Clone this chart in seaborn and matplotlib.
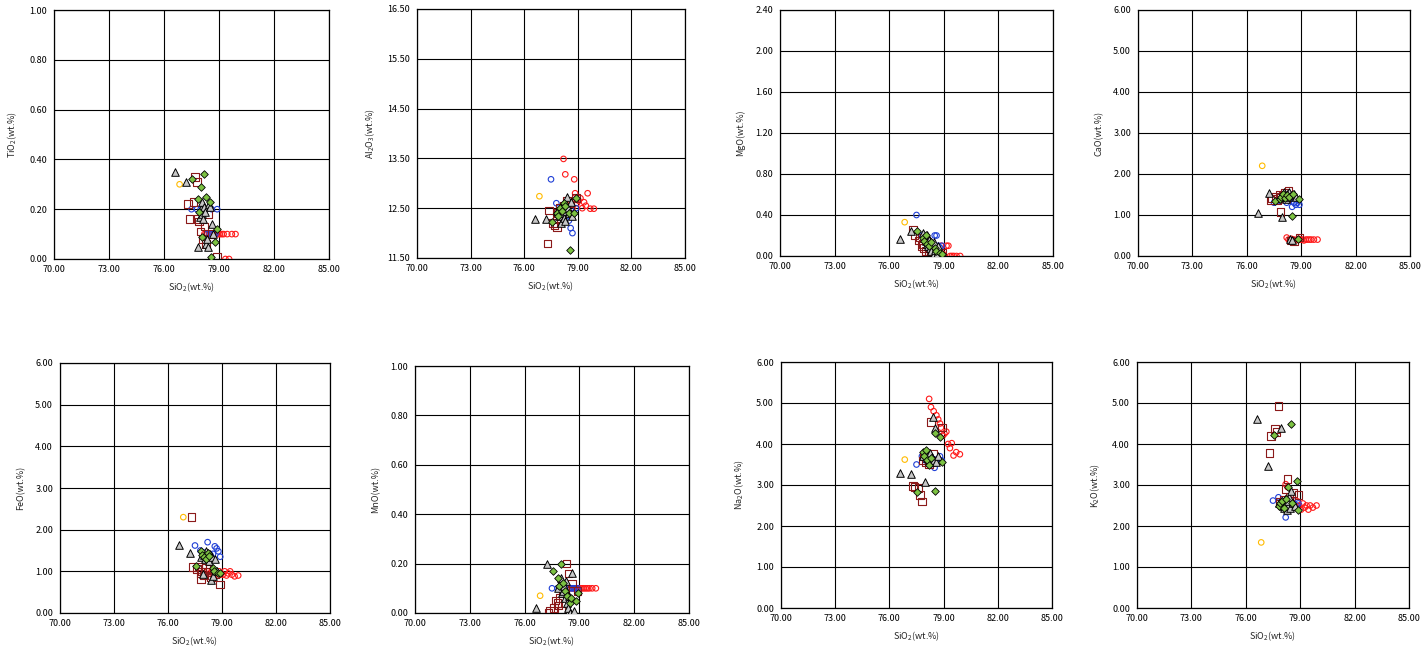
import pandas as pd
import seaborn as sns
import matplotlib
matplotlib.use('Agg')
import matplotlib.pyplot as plt
from matplotlib.ticker import FormatStrFormatter

# ---------------- data ----------------
# red open circles
red_si = [78.20, 78.30, 78.45, 78.60, 78.70, 78.80, 78.85, 78.95, 79.05, 79.15, 79.25, 79.35, 79.45, 79.55, 79.70, 79.90]
red_ti = [0.10, 0.10, 0.10, 0.10, 0.10, 0.10, 0.10, 0.10, 0.10, 0.10, 0.10, 0.00, 0.10, 0.00, 0.10, 0.10]
red_al = [13.49, 13.18, 12.55, 12.62, 12.50, 13.08, 12.80, 12.60, 12.65, 12.70, 12.50, 12.62, 12.55, 12.80, 12.49, 12.49]
red_mg = [0.05, 0.03, 0.02, 0.08, 0.00, 0.05, 0.10, 0.02, 0.00, 0.10, 0.10, 0.00, 0.00, 0.00, 0.00, 0.00]
red_ca = [0.45, 0.40, 0.42, 0.40, 0.38, 0.40, 0.42, 0.40, 0.40, 0.38, 0.40, 0.40, 0.40, 0.40, 0.40, 0.40]
red_fe = [1.00, 0.95, 0.98, 1.00, 0.95, 0.90, 1.00, 0.95, 0.92, 1.00, 0.90, 0.95, 1.00, 0.92, 0.88, 0.90]
red_mn = [0.10, 0.10, 0.10, 0.10, 0.10, 0.10, 0.10, 0.10, 0.10, 0.10, 0.10, 0.10, 0.10, 0.10, 0.10, 0.10]
red_na = [5.10, 4.90, 4.80, 4.70, 4.60, 4.50, 4.40, 4.20, 4.25, 4.30, 4.00, 3.90, 4.02, 3.72, 3.80, 3.75]
red_k = [3.02, 2.95, 2.65, 2.55, 2.50, 2.45, 2.60, 2.50, 2.40, 2.55, 2.45, 2.50, 2.40, 2.50, 2.45, 2.50]

# blue open circles
blue_si = [77.50, 77.80, 78.00, 78.20, 78.35, 78.50, 78.60, 78.70, 78.80, 78.90]
blue_ti = [0.20, 0.20, 0.20, 0.20, 0.10, 0.10, 0.20, 0.10, 0.10, 0.20]
blue_al = [13.08, 12.60, 12.45, 12.35, 12.30, 12.25, 12.10, 12.00, 12.40, 12.50]
blue_mg = [0.40, 0.20, 0.18, 0.15, 0.12, 0.20, 0.20, 0.10, 0.08, 0.10]
blue_ca = [1.30, 1.35, 1.40, 1.30, 1.35, 1.20, 1.30, 1.25, 1.30, 1.25]
blue_fe = [1.62, 1.50, 1.45, 1.70, 1.40, 1.42, 1.60, 1.55, 1.48, 1.35]
blue_mn = [0.10, 0.10, 0.10, 0.10, 0.10, 0.10, 0.10, 0.10, 0.10, 0.10]
blue_na = [3.50, 3.70, 3.60, 3.75, 3.65, 3.42, 3.62, 3.55, 3.70, 3.60]
blue_k = [2.62, 2.70, 2.50, 2.21, 2.40, 2.55, 2.63, 2.45, 2.50, 2.55]

# orange open circle (single sample)
orange_si = [76.85]
orange_ti = [0.30]
orange_al = [12.74]
orange_mg = [0.33]
orange_ca = [2.20]
orange_fe = [2.30]
orange_mn = [0.07]
orange_na = [3.62]
orange_k = [1.60]

# dark red open squares
sq_si = [77.30, 77.40, 77.60, 77.70, 77.80, 77.85, 77.90, 78.00, 78.10, 78.20, 78.30, 78.40, 78.60, 78.90]
sq_ti = [0.22, 0.16, 0.23, 0.33, 0.31, 0.16, 0.15, 0.11, 0.08, 0.13, 0.06, 0.18, 0.10, 0.01]
sq_al = [11.79, 12.45, 12.20, 12.15, 12.30, 12.12, 12.40, 12.50, 12.35, 12.55, 12.45, 12.65, 12.60, 12.70]
sq_mg = [0.26, 0.20, 0.15, 0.18, 0.10, 0.12, 0.08, 0.05, 0.14, 0.02, 0.00, 0.06, 0.00, 0.03]
sq_ca = [1.37, 1.40, 1.45, 1.35, 1.50, 1.08, 1.42, 1.48, 1.55, 1.40, 1.58, 0.38, 0.35, 0.45]
sq_fe = [2.30, 1.10, 1.05, 1.12, 0.95, 0.82, 1.00, 0.90, 1.08, 0.98, 1.05, 0.85, 0.92, 0.68]
sq_mn = [0.00, 0.01, 0.02, 0.05, 0.04, 0.03, 0.06, 0.01, 0.08, 0.10, 0.20, 0.16, 0.12, 0.09]
sq_na = [2.97, 2.95, 2.93, 2.75, 2.60, 3.60, 3.70, 3.55, 3.65, 3.50, 4.53, 3.75, 3.60, 4.40]
sq_k = [3.78, 4.20, 4.37, 4.30, 4.93, 2.55, 2.60, 2.50, 2.65, 2.90, 3.15, 2.70, 2.80, 2.75]

# grey triangles
tri_si = [76.60, 77.20, 77.85, 77.95, 78.00, 78.05, 78.10, 78.15, 78.20, 78.25, 78.30, 78.35, 78.40, 78.45, 78.50, 78.60, 78.70]
tri_ti = [0.35, 0.31, 0.05, 0.17, 0.20, 0.23, 0.18, 0.16, 0.21, 0.19, 0.06, 0.08, 0.05, 0.22, 0.21, 0.14, 0.10]
tri_al = [12.28, 12.29, 12.45, 12.35, 12.50, 12.20, 12.40, 12.55, 12.30, 12.60, 12.25, 12.45, 12.73, 12.50, 12.40, 12.62, 12.35]
tri_mg = [0.17, 0.24, 0.22, 0.18, 0.15, 0.20, 0.12, 0.10, 0.16, 0.08, 0.05, 0.12, 0.00, 0.14, 0.06, 0.02, 0.10]
tri_ca = [1.04, 1.53, 1.45, 0.94, 1.50, 1.55, 1.48, 1.40, 1.52, 1.45, 1.50, 1.55, 0.42, 1.48, 0.38, 1.50, 1.45]
tri_fe = [1.64, 1.44, 1.35, 0.94, 1.40, 1.30, 1.50, 1.38, 1.45, 1.32, 1.25, 1.42, 0.80, 1.35, 0.90, 1.30, 1.00]
tri_mn = [0.02, 0.20, 0.10, 0.12, 0.14, 0.08, 0.09, 0.11, 0.06, 0.13, 0.04, 0.00, 0.02, 0.07, 0.00, 0.16, 0.01]
tri_na = [3.30, 3.27, 3.70, 3.07, 3.75, 3.80, 3.65, 3.72, 3.60, 3.78, 3.55, 3.68, 4.66, 3.62, 4.40, 3.55, 3.70]
tri_k = [4.60, 3.47, 2.55, 4.39, 2.60, 2.50, 2.45, 2.65, 2.55, 2.40, 2.50, 2.60, 2.70, 2.45, 2.85, 2.55, 2.50]

# green diamonds
dia_si = [77.55, 77.85, 77.90, 78.00, 78.10, 78.20, 78.30, 78.50, 78.55, 78.80, 78.90]
dia_ti = [0.32, 0.24, 0.19, 0.29, 0.09, 0.34, 0.25, 0.23, 0.01, 0.07, 0.12]
dia_al = [12.23, 12.40, 12.35, 12.50, 12.45, 12.60, 12.55, 12.40, 11.67, 12.40, 12.70]
dia_mg = [0.24, 0.18, 0.15, 0.20, 0.12, 0.10, 0.14, 0.08, 0.05, 0.03, 0.02]
dia_ca = [1.33, 1.40, 1.45, 1.50, 1.42, 1.48, 1.45, 0.98, 1.50, 0.41, 1.40]
dia_fe = [1.12, 1.50, 1.40, 1.35, 1.30, 1.45, 1.38, 1.08, 1.00, 0.96, 0.95]
dia_mn = [0.17, 0.14, 0.11, 0.20, 0.12, 0.09, 0.07, 0.04, 0.06, 0.05, 0.08]
dia_na = [2.82, 3.80, 3.70, 3.85, 3.60, 3.50, 3.65, 4.28, 2.86, 4.18, 3.55]
dia_k = [4.22, 2.50, 2.55, 2.60, 2.45, 2.65, 2.95, 4.49, 2.55, 3.10, 2.40]

oxides = ['TiO2', 'Al2O3', 'MgO', 'CaO', 'FeO', 'MnO', 'Na2O', 'K2O']
ylabels = ['TiO$_2$(wt.%)', 'Al$_2$O$_3$(wt.%)', 'MgO(wt.%)', 'CaO(wt.%)',
           'FeO(wt.%)', 'MnO(wt.%)', 'Na$_2$O(wt.%)', 'K$_2$O(wt.%)']
# y ticks per panel (first and last are the axis limits)
ti_ticks = [0.0, 0.2, 0.4, 0.6, 0.8, 1.0]
al_ticks = [11.5, 12.5, 13.5, 14.5, 15.5, 16.5]
mg_ticks = [0.0, 0.4, 0.8, 1.2, 1.6, 2.0, 2.4]
six_ticks = [0.0, 1.0, 2.0, 3.0, 4.0, 5.0, 6.0]
yticks = [ti_ticks, al_ticks, mg_ticks, six_ticks, six_ticks, ti_ticks, six_ticks, six_ticks]
xticks = [70, 73, 76, 79, 82, 85]


def make_df(si, ti, al, mg, ca, fe, mn, na, k):
    return pd.DataFrame({'SiO2': si, 'TiO2': ti, 'Al2O3': al, 'MgO': mg, 'CaO': ca,
                         'FeO': fe, 'MnO': mn, 'Na2O': na, 'K2O': k})


groups = [
    (make_df(red_si, red_ti, red_al, red_mg, red_ca, red_fe, red_mn, red_na, red_k),
     dict(marker='o', s=16, facecolor='none', edgecolor='#ff1a1a', linewidth=0.8)),
    (make_df(blue_si, blue_ti, blue_al, blue_mg, blue_ca, blue_fe, blue_mn, blue_na, blue_k),
     dict(marker='o', s=16, facecolor='none', edgecolor='#1f3fd6', linewidth=0.8)),
    (make_df(orange_si, orange_ti, orange_al, orange_mg, orange_ca, orange_fe, orange_mn, orange_na, orange_k),
     dict(marker='o', s=16, facecolor='none', edgecolor='#ffbb00', linewidth=0.8)),
    (make_df(sq_si, sq_ti, sq_al, sq_mg, sq_ca, sq_fe, sq_mn, sq_na, sq_k),
     dict(marker='s', s=30, facecolor='none', edgecolor='#8b1a1a', linewidth=0.8)),
    (make_df(tri_si, tri_ti, tri_al, tri_mg, tri_ca, tri_fe, tri_mn, tri_na, tri_k),
     dict(marker='^', s=30, facecolor='#c8c8c8', edgecolor='black', linewidth=0.7)),
    (make_df(dia_si, dia_ti, dia_al, dia_mg, dia_ca, dia_fe, dia_mn, dia_na, dia_k),
     dict(marker='D', s=15, facecolor='#7cc242', edgecolor='black', linewidth=0.6)),
]

sns.set_style('white')
plt.rcParams['font.family'] = ['Noto Sans CJK JP', 'DejaVu Sans']
plt.rcParams['mathtext.default'] = 'regular'

W, H = 1422, 652
fig = plt.figure(figsize=(W / 100, H / 100), dpi=100)

# axes boxes in pixels: left, top, width, height
boxes = [(54, 10, 275, 249), (417, 9, 268, 249), (780, 10, 273, 246), (1138, 10, 272, 246),
         (60, 363, 270, 250), (415, 366, 274, 247), (781, 362, 271, 246), (1137, 362, 272, 246)]

for i, ox in enumerate(oxides):
    l, t, w, h = boxes[i]
    ax = fig.add_axes([l / W, 1 - (t + h) / H, w / W, h / H])
    for df, style in groups:
        sns.scatterplot(data=df, x='SiO2', y=ox, ax=ax, legend=False, zorder=3, **style)
    ax.set_xlim(70, 85)
    ax.set_ylim(yticks[i][0], yticks[i][-1])
    ax.set_xticks(xticks)
    ax.set_yticks(yticks[i])
    ax.xaxis.set_major_formatter(FormatStrFormatter('%.2f'))
    ax.yaxis.set_major_formatter(FormatStrFormatter('%.2f'))
    ax.grid(True, color='black', linewidth=0.8)
    ax.set_axisbelow(True)
    for sp in ax.spines.values():
        sp.set_color('black')
        sp.set_linewidth(0.9)
    ax.tick_params(axis='both', labelsize=6.5, length=3, width=0.8, pad=2, colors='black')
    ax.tick_params(axis='x', length=0, pad=4)
    ax.set_xlabel('SiO$_2$(wt.%)', fontsize=6.5, labelpad=5)
    ax.set_ylabel(ylabels[i], fontsize=6.5, labelpad=7)

fig.savefig('out.png', dpi=100)
